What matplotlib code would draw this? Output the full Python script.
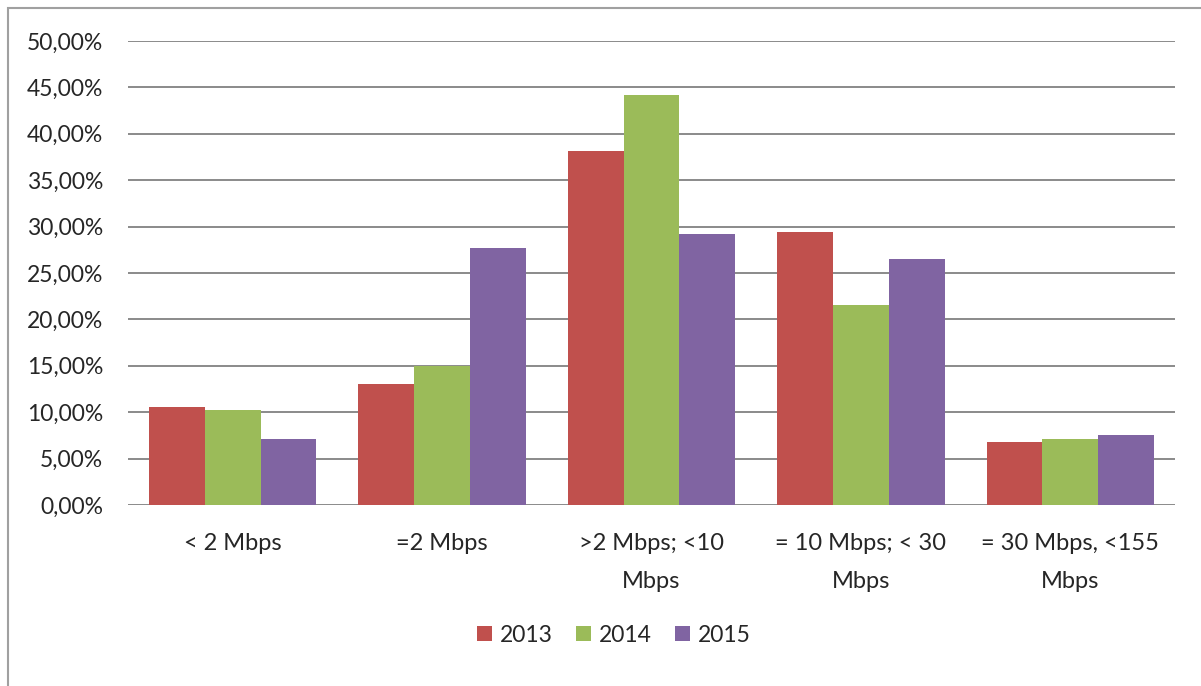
#!/usr/bin/env python3

import numpy as np
import matplotlib
matplotlib.use("Agg")
import matplotlib.pyplot as plt
from matplotlib.patches import Patch, Rectangle

# share of connections per speed band, in percent
categories = ["< 2 Mbps", "=2 Mbps", ">2 Mbps; <10\nMbps",
              "= 10 Mbps; < 30\nMbps", "= 30 Mbps, <155\nMbps"]
years = ["2013", "2014", "2015"]
share_2013 = [10.6, 13.0, 38.2, 29.4, 6.8]
share_2014 = [10.2, 15.0, 44.2, 21.6, 7.1]
share_2015 = [7.1, 27.7, 29.2, 26.5, 7.5]
colors = ["#C0504D", "#9BBB59", "#8064A2"]

W, H = 1201, 686
plt.rcParams['font.family'] = ['Lato', 'DejaVu Sans']
text_color = "#262626"

fig = plt.figure(figsize=(W / 100, H / 100), dpi=100)
ax = fig.add_axes([128 / W, (H - 505) / H, 1047 / W, 464 / H])

x = np.arange(len(categories))
width = 0.8 / 3
for i, (vals, c) in enumerate(zip([share_2013, share_2014, share_2015], colors)):
    ax.bar(x + (i - 1) * width, vals, width, color=c, zorder=3)

ax.set_xlim(-0.5, len(categories) - 0.5)
ax.set_ylim(0, 50)
ax.set_yticks(np.arange(0, 51, 5))
ax.set_yticklabels(["{:.2f}%".format(v).replace(".", ",") for v in np.arange(0, 51, 5)])
ax.yaxis.grid(True, color="#8a8a8a", linewidth=1.4, zorder=0)
ax.tick_params(axis="y", length=0, pad=18, labelsize=16.5, labelcolor=text_color)

ax.set_xticks(x)
ax.set_xticklabels(categories, linespacing=2.0)
ax.tick_params(axis="x", length=0, pad=20, labelsize=17, labelcolor=text_color)

for s in ax.spines.values():
    s.set_visible(False)

handles = [Patch(facecolor=c, label=y) for c, y in zip(colors, years)]
fig.legend(handles=handles, loc="center", bbox_to_anchor=(614 / W, 1 - 635 / H),
           ncol=3, frameon=False, fontsize=16.5, handlelength=0.65, handleheight=0.65,
           handletextpad=0.35, columnspacing=1.0, labelcolor=text_color)

# outer chart frame
fig.add_artist(Rectangle((8 / W, -0.1), 1.0, 1.1 - 8 / H, fill=False,
                         edgecolor="#a0a0a0", linewidth=1.5, transform=fig.transFigure))

fig.savefig("out.png", dpi=100)
